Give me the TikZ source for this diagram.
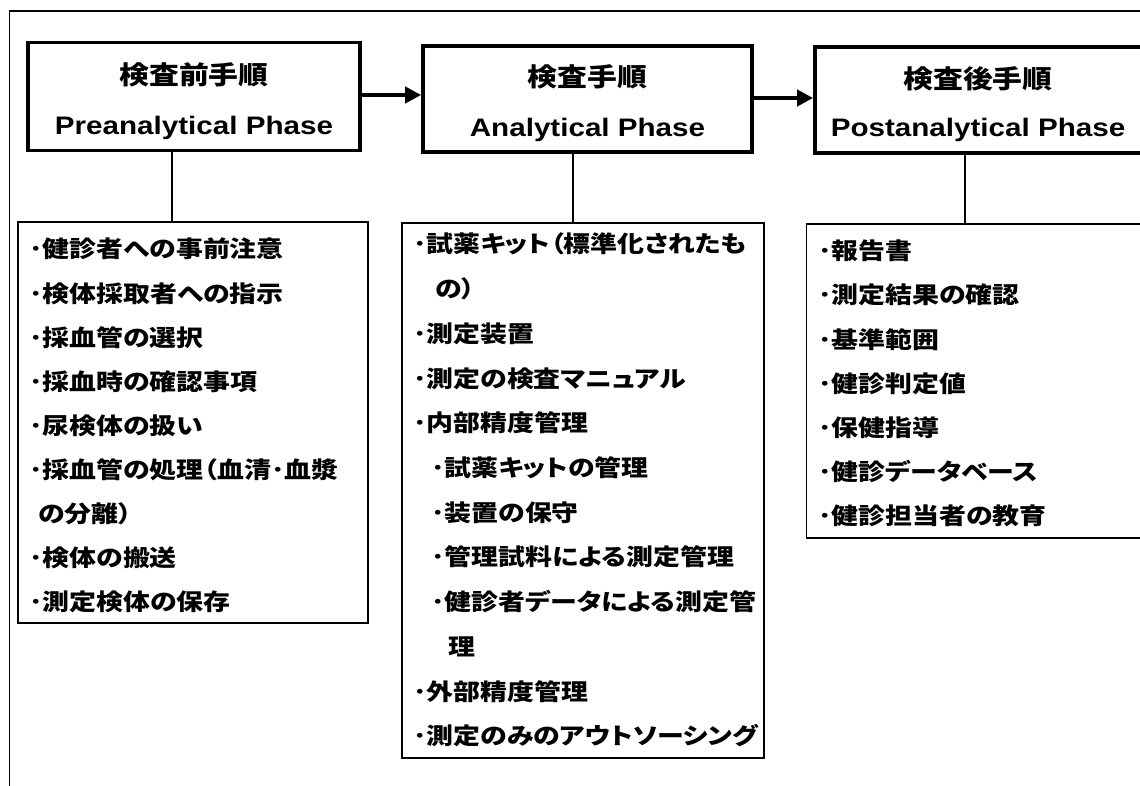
\documentclass[tikz,border=0pt]{standalone}
\usepackage{fontspec}
\usepackage{graphicx}
\setmainfont{Liberation Sans}
\newfontfamily\jp[BoldFont={* Black}]{Noto Sans CJK JP}
\newfontfamily\jpl[RawFeature=+palt,BoldFont={* Black}]{Noto Sans CJK JP}
\usetikzlibrary{arrows.meta}
\newcommand{\hs}[1]{\scalebox{1.17}[1]{#1}}
\tikzset{
  phasebox/.style={draw, line width=3.8pt, inner sep=0pt},
  listbox/.style={draw, line width=1.6pt, inner sep=0pt},
  jph/.style={anchor=base, inner sep=0pt, font=\jp\bfseries\fontsize{25.5}{25.5}\selectfont},
  enh/.style={anchor=base, inner sep=0pt, font=\bfseries\fontsize{25.3}{25.3}\selectfont},
  item/.style={anchor=base west, inner sep=0pt, font=\jpl\bfseries\fontsize{23}{23}\selectfont},
  flow/.style={line width=4pt, -{Triangle[length=16pt,width=16pt]}},
  link/.style={line width=1.4pt},
  frame/.style={line width=1.8pt},
}
\begin{document}
\begin{tikzpicture}[x=1pt,y=-1pt]
\useasboundingbox (0,0) rectangle (1140,786);
\clip (0,0) rectangle (1140,786);
\fill[white] (0,0) rectangle (1140,786);
% outer frame (open to right and bottom)
\coordinate (fa) at (9.5,800);
\coordinate (fb) at (9.5,11);
\coordinate (fc) at (1160,11);
\draw[frame] (fa) -- (fb) -- (fc);

% phase boxes
\node[phasebox, minimum width=332pt, minimum height=108pt] (b1) at (194,96.5) {};
\node[phasebox, minimum width=329pt, minimum height=106pt] (b2) at (587.5,99) {};
\node[phasebox, minimum width=328pt, minimum height=106pt] (b3) at (979,100) {};

\node[jph] (b1j) at (194,84.5) {\hs{検査前手順}};
\node[enh] (b1e) at (194,135) {\hs{Preanalytical Phase}};
\node[jph] (b2j) at (587.5,86.5) {\hs{検査手順}};
\node[enh] (b2e) at (587.5,137) {\hs{Analytical Phase}};
\node[jph] (b3j) at (978,88.5) {\hs{検査後手順}};
\node[enh] (b3e) at (978,137) {\hs{Postanalytical Phase}};

% arrows
\coordinate (a1) at (0,95);
\coordinate (a2) at (0,98);
\draw[flow] (b1.east |- a1) -- (b2.west |- a1);
\draw[flow] (b2.east |- a2) -- (b3.west |- a2);

% list boxes
\node[listbox, minimum width=350pt, minimum height=401pt] (l1) at (193,422.5) {};
\node[listbox, minimum width=362pt, minimum height=535pt] (l2) at (583,490.5) {};
\node[listbox, minimum width=334pt, minimum height=314pt] (l3) at (973.5,381) {};

% connectors
\coordinate (c1) at (172,0);
\coordinate (c2) at (573,0);
\coordinate (c3) at (965,0);
\draw[link] (b1.south -| c1) -- (l1.north -| c1);
\draw[link] (b2.south -| c2) -- (l2.north -| c2);
\draw[link] (b3.south -| c3) -- (l3.north -| c3);

% list 1
\node[item] (p1) at (29,258)   {\hs{･健診者への事前注意}};
\node[item] (p2) at (29,302.1) {\hs{･検体採取者への指示}};
\node[item] (p3) at (29,346.2) {\hs{･採血管の選択}};
\node[item] (p4) at (29,390.3) {\hs{･採血時の確認事項}};
\node[item] (p5) at (29,434.4) {\hs{･尿検体の扱い}};
\node[item] (p6) at (29,478.5) {\hs{･採血管の処理（血清･血漿}};
\node[item] (p7) at (38,522.6) {\hs{の分離）}};
\node[item] (p8) at (29,566.7) {\hs{･検体の搬送}};
\node[item] (p9) at (29,610.8) {\hs{･測定検体の保存}};

% list 2
\node[item] (q1)  at (413,253)   {\hs{･試薬キット（標準化されたも}};
\node[item] (q2)  at (435,297.7) {\hs{の）}};
\node[item] (q3)  at (413,342.4) {\hs{･測定装置}};
\node[item] (q4)  at (413,387.1) {\hs{･測定の検査マニュアル}};
\node[item] (q5)  at (413,431.8) {\hs{･内部精度管理}};
\node[item] (q6)  at (431,476.5) {\hs{･試薬キットの管理}};
\node[item] (q7)  at (431,521.2) {\hs{･装置の保守}};
\node[item] (q8)  at (431,565.9) {\hs{･管理試料による測定管理}};
\node[item] (q9)  at (431,610.6) {\hs{･健診者データによる測定管}};
\node[item] (q10) at (448,655.3) {\hs{理}};
\node[item] (q11) at (413,700)   {\hs{･外部精度管理}};
\node[item] (q12) at (413,744.7) {\hs{･測定のみのアウトソーシング}};

% list 3
\node[item] (r1) at (818,260) {\hs{･報告書}};
\node[item] (r2) at (818,304) {\hs{･測定結果の確認}};
\node[item] (r3) at (818,348) {\hs{･基準範囲}};
\node[item] (r4) at (818,392) {\hs{･健診判定値}};
\node[item] (r5) at (818,436) {\hs{･保健指導}};
\node[item] (r6) at (818,480) {\hs{･健診データベース}};
\node[item] (r7) at (818,524) {\hs{･健診担当者の教育}};
\end{tikzpicture}
\end{document}
